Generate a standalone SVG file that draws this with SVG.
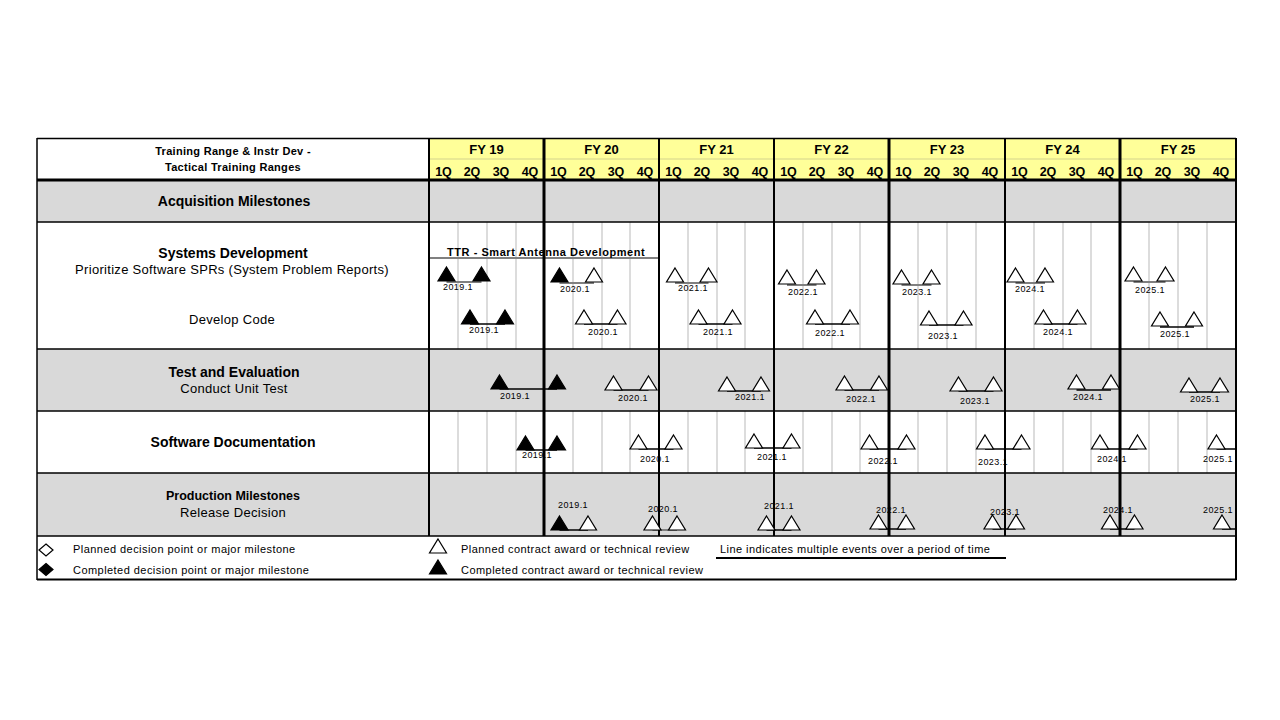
<svg xmlns="http://www.w3.org/2000/svg" xmlns:xlink="http://www.w3.org/1999/xlink" width="1280" height="720" viewBox="0 0 1280 720">
<style>
text{font-family:"Liberation Sans",Arial,sans-serif;fill:#000}
.hdr{font-size:11px;font-weight:bold;text-anchor:middle;letter-spacing:0.3px}
.fy{font-size:13px;font-weight:bold;text-anchor:middle}
.q{font-size:12.5px;font-weight:bold;text-anchor:middle}
.rt{font-size:14px;font-weight:bold;text-anchor:middle}
.rs{font-size:13px;text-anchor:middle;letter-spacing:0.3px}
.pm{font-size:12.5px;font-weight:bold;text-anchor:middle}
.lb{font-size:9px;text-anchor:middle;letter-spacing:0.4px}
.lg{font-size:11px;letter-spacing:0.45px}
.plan{fill:#fff;stroke:#000;stroke-width:1.2}
.done{fill:#000;stroke:#000;stroke-width:1.2}
.conn{stroke:#000;stroke-width:1.5;fill:none}
.conng{stroke:#808080;stroke-width:2;fill:none}
.grid{stroke:#d0d0d0;stroke-width:1.5}
.hl{stroke:#000;stroke-width:1.5}
.yl2{stroke:#000;stroke-width:2}
.yl3{stroke:#000;stroke-width:3}
</style>
<defs>
<path id="tri" d="M0,-14 L8.5,0 L-8.5,0 Z"/>
<path id="dia" d="M0,-6 L7,0 L0,6 L-7,0 Z"/>
</defs>
<rect width="1280" height="720" fill="#fff"/>

<g id="backgrounds">
<rect x="37" y="138" width="392" height="42" fill="#fff"/>
<rect x="429" y="138" width="807" height="42" fill="#FFFF99"/>
<rect x="37" y="180" width="1199" height="42" fill="#D9D9D9"/>
<rect x="37" y="349" width="1199" height="62" fill="#D9D9D9"/>
<rect x="37" y="473" width="1199" height="63" fill="#D9D9D9"/>
</g>

<g id="quarter-grid">
<line class="grid" x1="458" y1="222" x2="458" y2="349"/><line class="grid" x1="487" y1="222" x2="487" y2="349"/><line class="grid" x1="516" y1="222" x2="516" y2="349"/>
<line class="grid" x1="573" y1="222" x2="573" y2="349"/><line class="grid" x1="602" y1="222" x2="602" y2="349"/><line class="grid" x1="630" y1="222" x2="630" y2="349"/>
<line class="grid" x1="688" y1="222" x2="688" y2="349"/><line class="grid" x1="717" y1="222" x2="717" y2="349"/><line class="grid" x1="745" y1="222" x2="745" y2="349"/>
<line class="grid" x1="803" y1="222" x2="803" y2="349"/><line class="grid" x1="832" y1="222" x2="832" y2="349"/><line class="grid" x1="860" y1="222" x2="860" y2="349"/>
<line class="grid" x1="918" y1="222" x2="918" y2="349"/><line class="grid" x1="947" y1="222" x2="947" y2="349"/><line class="grid" x1="976" y1="222" x2="976" y2="349"/>
<line class="grid" x1="1034" y1="222" x2="1034" y2="349"/><line class="grid" x1="1063" y1="222" x2="1063" y2="349"/><line class="grid" x1="1091" y1="222" x2="1091" y2="349"/>
<line class="grid" x1="1149" y1="222" x2="1149" y2="349"/><line class="grid" x1="1178" y1="222" x2="1178" y2="349"/><line class="grid" x1="1207" y1="222" x2="1207" y2="349"/>
<line class="grid" x1="458" y1="411" x2="458" y2="473"/><line class="grid" x1="487" y1="411" x2="487" y2="473"/><line class="grid" x1="516" y1="411" x2="516" y2="473"/>
<line class="grid" x1="573" y1="411" x2="573" y2="473"/><line class="grid" x1="602" y1="411" x2="602" y2="473"/><line class="grid" x1="630" y1="411" x2="630" y2="473"/>
<line class="grid" x1="688" y1="411" x2="688" y2="473"/><line class="grid" x1="717" y1="411" x2="717" y2="473"/><line class="grid" x1="745" y1="411" x2="745" y2="473"/>
<line class="grid" x1="803" y1="411" x2="803" y2="473"/><line class="grid" x1="832" y1="411" x2="832" y2="473"/><line class="grid" x1="860" y1="411" x2="860" y2="473"/>
<line class="grid" x1="918" y1="411" x2="918" y2="473"/><line class="grid" x1="947" y1="411" x2="947" y2="473"/><line class="grid" x1="976" y1="411" x2="976" y2="473"/>
<line class="grid" x1="1034" y1="411" x2="1034" y2="473"/><line class="grid" x1="1063" y1="411" x2="1063" y2="473"/><line class="grid" x1="1091" y1="411" x2="1091" y2="473"/>
<line class="grid" x1="1149" y1="411" x2="1149" y2="473"/><line class="grid" x1="1178" y1="411" x2="1178" y2="473"/><line class="grid" x1="1207" y1="411" x2="1207" y2="473"/>
</g>

<g id="header">
<text class="hdr" x="233" y="155">Training Range &amp; Instr Dev -</text>
<text class="hdr" x="233" y="171">Tactical Training Ranges</text>
<line x1="429" y1="159" x2="1236" y2="159" stroke="#c8c88a" stroke-width="0.8"/>
<text class="fy" x="486.5" y="154">FY 19</text>
<text class="fy" x="601.5" y="154">FY 20</text>
<text class="fy" x="716.5" y="154">FY 21</text>
<text class="fy" x="831.5" y="154">FY 22</text>
<text class="fy" x="947" y="154">FY 23</text>
<text class="fy" x="1062.5" y="154">FY 24</text>
<text class="fy" x="1178" y="154">FY 25</text>
<g id="quarters">
<text class="q" x="443.5" y="175.5">1Q</text><text class="q" x="472" y="175.5">2Q</text><text class="q" x="501" y="175.5">3Q</text><text class="q" x="530" y="175.5">4Q</text>
<text class="q" x="558.5" y="175.5">1Q</text><text class="q" x="587" y="175.5">2Q</text><text class="q" x="616" y="175.5">3Q</text><text class="q" x="645" y="175.5">4Q</text>
<text class="q" x="673.5" y="175.5">1Q</text><text class="q" x="702" y="175.5">2Q</text><text class="q" x="731" y="175.5">3Q</text><text class="q" x="760" y="175.5">4Q</text>
<text class="q" x="788.5" y="175.5">1Q</text><text class="q" x="817" y="175.5">2Q</text><text class="q" x="846" y="175.5">3Q</text><text class="q" x="875" y="175.5">4Q</text>
<text class="q" x="903.5" y="175.5">1Q</text><text class="q" x="932" y="175.5">2Q</text><text class="q" x="961" y="175.5">3Q</text><text class="q" x="990" y="175.5">4Q</text>
<text class="q" x="1019.5" y="175.5">1Q</text><text class="q" x="1048" y="175.5">2Q</text><text class="q" x="1077" y="175.5">3Q</text><text class="q" x="1106" y="175.5">4Q</text>
<text class="q" x="1134.5" y="175.5">1Q</text><text class="q" x="1163" y="175.5">2Q</text><text class="q" x="1192" y="175.5">3Q</text><text class="q" x="1221" y="175.5">4Q</text>
</g>
</g>

<g id="row-acquisition">
<text class="rt" x="234" y="206">Acquisition Milestones</text>
</g>
<g id="row-systems-development">
<text class="rt" x="233" y="258">Systems Development</text>
<text class="rs" x="232" y="274">Prioritize Software SPRs (System Problem Reports)</text>
<text class="rs" x="232" y="324">Develop Code</text>
</g>
<g id="row-test-evaluation">
<text class="rt" x="234" y="377">Test and Evaluation</text>
<text class="rs" x="234" y="393">Conduct Unit Test</text>
</g>
<g id="row-software-documentation">
<text class="rt" x="233" y="447">Software Documentation</text>
</g>
<g id="row-production">
<text class="pm" x="233" y="500">Production Milestones</text>
<text class="rs" x="233" y="517">Release Decision</text>
</g>

<g id="connectors">
<line class="conng" x1="429" y1="258" x2="659" y2="258"/>
<line class="conng" x1="446.5" y1="282" x2="481.5" y2="282"/>
<line class="conng" x1="559.5" y1="283" x2="594" y2="283"/>
<line class="conng" x1="675" y1="283" x2="708.5" y2="283"/>
<line class="conng" x1="787" y1="285" x2="816.5" y2="285"/>
<line class="conng" x1="901.5" y1="285" x2="931.5" y2="285"/>
<line class="conng" x1="1015.5" y1="283" x2="1045" y2="283"/>
<line class="conng" x1="1133.5" y1="282" x2="1165.5" y2="282"/>
<line class="conn" x1="470" y1="324" x2="505" y2="324"/>
<line class="conn" x1="584" y1="324" x2="617.5" y2="324"/>
<line class="conn" x1="698.5" y1="324" x2="732.5" y2="324"/>
<line class="conn" x1="815" y1="324" x2="850" y2="324"/>
<line class="conn" x1="929" y1="325" x2="963.5" y2="325"/>
<line class="conn" x1="1043.5" y1="324" x2="1077.5" y2="324"/>
<line class="conn" x1="1160" y1="327" x2="1194" y2="327"/>
<line class="conn" x1="499.5" y1="389" x2="557" y2="389"/>
<line class="conn" x1="613.5" y1="390" x2="648.5" y2="390"/>
<line class="conn" x1="727" y1="391" x2="761" y2="391"/>
<line class="conn" x1="844.5" y1="390" x2="879" y2="390"/>
<line class="conn" x1="958.5" y1="391" x2="993.5" y2="391"/>
<line class="conn" x1="1076.5" y1="390" x2="1111" y2="390"/>
<line class="conn" x1="1189" y1="392" x2="1220" y2="392"/>
<line class="conn" x1="525.5" y1="450" x2="557" y2="450"/>
<line class="conn" x1="638.5" y1="449" x2="673.5" y2="449"/>
<line class="conn" x1="754" y1="448" x2="791.5" y2="448"/>
<line class="conn" x1="869.5" y1="449" x2="906.5" y2="449"/>
<line class="conn" x1="985" y1="449" x2="1021.5" y2="449"/>
<line class="conn" x1="1100" y1="449" x2="1137.5" y2="449"/>
<line class="conn" x1="1216.5" y1="449" x2="1236" y2="449"/>
<line class="conn" x1="559.5" y1="530" x2="588" y2="530"/>
<line class="conng" x1="652.5" y1="530" x2="677" y2="530"/>
<line class="conn" x1="766.5" y1="530" x2="791.5" y2="530"/>
<line class="conn" x1="878.5" y1="529" x2="906" y2="529"/>
<line class="conn" x1="992.5" y1="529" x2="1016" y2="529"/>
<line class="conn" x1="1110" y1="529" x2="1134.5" y2="529"/>
<line class="conn" x1="1222" y1="529" x2="1236" y2="529"/>
</g>

<g id="milestone-labels">
<text class="lb" x="458" y="290">2019.1</text><text class="lb" x="575" y="292">2020.1</text><text class="lb" x="693" y="291">2021.1</text><text class="lb" x="803" y="295">2022.1</text><text class="lb" x="917" y="295">2023.1</text><text class="lb" x="1030" y="292">2024.1</text><text class="lb" x="1150" y="293">2025.1</text>
<text class="lb" x="484" y="333">2019.1</text><text class="lb" x="603" y="335">2020.1</text><text class="lb" x="718" y="335">2021.1</text><text class="lb" x="830" y="336">2022.1</text><text class="lb" x="943" y="339">2023.1</text><text class="lb" x="1058" y="335">2024.1</text><text class="lb" x="1175" y="337">2025.1</text>
<text class="lb" x="515" y="399">2019.1</text><text class="lb" x="633" y="401">2020.1</text><text class="lb" x="750" y="400">2021.1</text><text class="lb" x="861" y="402">2022.1</text><text class="lb" x="975" y="404">2023.1</text><text class="lb" x="1088" y="400">2024.1</text><text class="lb" x="1205" y="402">2025.1</text>
<text class="lb" x="537" y="458">2019.1</text><text class="lb" x="655" y="462">2020.1</text><text class="lb" x="772" y="460">2021.1</text><text class="lb" x="883" y="464">2022.1</text><text class="lb" x="993" y="465">2023.1</text><text class="lb" x="1112" y="462">2024.1</text><text class="lb" x="1218" y="462">2025.1</text>
<text class="lb" x="573" y="508">2019.1</text><text class="lb" x="663" y="512">2020.1</text><text class="lb" x="779" y="509">2021.1</text><text class="lb" x="891" y="513">2022.1</text><text class="lb" x="1005" y="515">2023.1</text><text class="lb" x="1118" y="513">2024.1</text><text class="lb" x="1218" y="513">2025.1</text>
</g>

<g id="table-lines">
<line class="hl" x1="37" y1="138.5" x2="1236" y2="138.5"/>
<line x1="37" y1="180" x2="1236" y2="180" stroke="#000" stroke-width="3"/>
<line class="hl" x1="37" y1="222" x2="1236" y2="222"/>
<line class="hl" x1="37" y1="349" x2="1236" y2="349"/>
<line class="hl" x1="37" y1="411" x2="1236" y2="411"/>
<line class="hl" x1="37" y1="473" x2="1236" y2="473"/>
<line class="hl" x1="37" y1="536" x2="1236" y2="536"/>
<line x1="37" y1="579.5" x2="1236" y2="579.5" stroke="#000" stroke-width="2"/>
<line class="hl" x1="37" y1="138" x2="37" y2="580"/>
<line class="yl2" x1="1236" y1="138" x2="1236" y2="580"/>
<line class="yl2" x1="429" y1="138" x2="429" y2="536"/>
<line class="yl3" x1="544" y1="138" x2="544" y2="536"/>
<line class="yl2" x1="659" y1="138" x2="659" y2="536"/>
<line class="yl2" x1="774" y1="138" x2="774" y2="536"/>
<line class="yl3" x1="889" y1="138" x2="889" y2="536"/>
<line class="yl2" x1="1005" y1="138" x2="1005" y2="536"/>
<line class="yl3" x1="1120" y1="138" x2="1120" y2="536"/>
</g>

<g id="ttr-label">
<text x="447" y="256" style="font-size:11px;font-weight:bold;letter-spacing:0.55px">TTR - Smart Antenna Development</text>
</g>

<g id="milestones">
<use href="#tri" xlink:href="#tri" class="done" x="446.5" y="281"/><use href="#tri" xlink:href="#tri" class="done" x="481.5" y="281"/>
<use href="#tri" xlink:href="#tri" class="done" x="559.5" y="282"/><use href="#tri" xlink:href="#tri" class="plan" x="594" y="282"/>
<use href="#tri" xlink:href="#tri" class="plan" x="675" y="282"/><use href="#tri" xlink:href="#tri" class="plan" x="708.5" y="282"/>
<use href="#tri" xlink:href="#tri" class="plan" x="787" y="284"/><use href="#tri" xlink:href="#tri" class="plan" x="816.5" y="284"/>
<use href="#tri" xlink:href="#tri" class="plan" x="901.5" y="284"/><use href="#tri" xlink:href="#tri" class="plan" x="931.5" y="284"/>
<use href="#tri" xlink:href="#tri" class="plan" x="1015.5" y="282"/><use href="#tri" xlink:href="#tri" class="plan" x="1045" y="282"/>
<use href="#tri" xlink:href="#tri" class="plan" x="1133.5" y="281"/><use href="#tri" xlink:href="#tri" class="plan" x="1165.5" y="281"/>

<use href="#tri" xlink:href="#tri" class="done" x="470" y="324"/><use href="#tri" xlink:href="#tri" class="done" x="505" y="324"/>
<use href="#tri" xlink:href="#tri" class="plan" x="584" y="324"/><use href="#tri" xlink:href="#tri" class="plan" x="617.5" y="324"/>
<use href="#tri" xlink:href="#tri" class="plan" x="698.5" y="324"/><use href="#tri" xlink:href="#tri" class="plan" x="732.5" y="324"/>
<use href="#tri" xlink:href="#tri" class="plan" x="815" y="324"/><use href="#tri" xlink:href="#tri" class="plan" x="850" y="324"/>
<use href="#tri" xlink:href="#tri" class="plan" x="929" y="325"/><use href="#tri" xlink:href="#tri" class="plan" x="963.5" y="325"/>
<use href="#tri" xlink:href="#tri" class="plan" x="1043.5" y="324"/><use href="#tri" xlink:href="#tri" class="plan" x="1077.5" y="324"/>
<use href="#tri" xlink:href="#tri" class="plan" x="1160" y="326"/><use href="#tri" xlink:href="#tri" class="plan" x="1194" y="326"/>

<use href="#tri" xlink:href="#tri" class="done" x="499.5" y="389"/><use href="#tri" xlink:href="#tri" class="done" x="557" y="389"/>
<use href="#tri" xlink:href="#tri" class="plan" x="613.5" y="390"/><use href="#tri" xlink:href="#tri" class="plan" x="648.5" y="390"/>
<use href="#tri" xlink:href="#tri" class="plan" x="727" y="391"/><use href="#tri" xlink:href="#tri" class="plan" x="761" y="391"/>
<use href="#tri" xlink:href="#tri" class="plan" x="844.5" y="390"/><use href="#tri" xlink:href="#tri" class="plan" x="879" y="390"/>
<use href="#tri" xlink:href="#tri" class="plan" x="958.5" y="391"/><use href="#tri" xlink:href="#tri" class="plan" x="993.5" y="391"/>
<use href="#tri" xlink:href="#tri" class="plan" x="1076.5" y="389"/><use href="#tri" xlink:href="#tri" class="plan" x="1111" y="389"/>
<use href="#tri" xlink:href="#tri" class="plan" x="1189" y="392"/><use href="#tri" xlink:href="#tri" class="plan" x="1220" y="392"/>

<use href="#tri" xlink:href="#tri" class="done" x="525.5" y="450"/><use href="#tri" xlink:href="#tri" class="done" x="557" y="450"/>
<use href="#tri" xlink:href="#tri" class="plan" x="638.5" y="449"/><use href="#tri" xlink:href="#tri" class="plan" x="673.5" y="449"/>
<use href="#tri" xlink:href="#tri" class="plan" x="754" y="448"/><use href="#tri" xlink:href="#tri" class="plan" x="791.5" y="448"/>
<use href="#tri" xlink:href="#tri" class="plan" x="869.5" y="449"/><use href="#tri" xlink:href="#tri" class="plan" x="906.5" y="449"/>
<use href="#tri" xlink:href="#tri" class="plan" x="985" y="449"/><use href="#tri" xlink:href="#tri" class="plan" x="1021.5" y="449"/>
<use href="#tri" xlink:href="#tri" class="plan" x="1100" y="449"/><use href="#tri" xlink:href="#tri" class="plan" x="1137.5" y="449"/>
<use href="#tri" xlink:href="#tri" class="plan" x="1216.5" y="449"/>

<use href="#tri" xlink:href="#tri" class="done" x="559.5" y="530"/><use href="#tri" xlink:href="#tri" class="plan" x="588" y="530"/>
<use href="#tri" xlink:href="#tri" class="plan" x="652.5" y="530"/><use href="#tri" xlink:href="#tri" class="plan" x="677" y="530"/>
<use href="#tri" xlink:href="#tri" class="plan" x="766.5" y="530"/><use href="#tri" xlink:href="#tri" class="plan" x="791.5" y="530"/>
<use href="#tri" xlink:href="#tri" class="plan" x="878.5" y="529"/><use href="#tri" xlink:href="#tri" class="plan" x="906" y="529"/>
<use href="#tri" xlink:href="#tri" class="plan" x="992.5" y="529"/><use href="#tri" xlink:href="#tri" class="plan" x="1016" y="529"/>
<use href="#tri" xlink:href="#tri" class="plan" x="1110" y="529"/><use href="#tri" xlink:href="#tri" class="plan" x="1134.5" y="529"/>
<use href="#tri" xlink:href="#tri" class="plan" x="1222" y="529"/>
</g>

<g id="legend">
<use href="#dia" xlink:href="#dia" class="plan" x="46" y="550"/>
<use href="#dia" xlink:href="#dia" class="done" x="46" y="569.5"/>
<text class="lg" x="73" y="553">Planned decision point or major milestone</text>
<text class="lg" x="73" y="574">Completed decision point or major milestone</text>
<use href="#tri" xlink:href="#tri" class="plan" x="438" y="553"/>
<use href="#tri" xlink:href="#tri" class="done" x="438" y="574"/>
<text class="lg" x="461" y="553">Planned contract award or technical review</text>
<text class="lg" x="461" y="574">Completed contract award or technical review</text>
<text class="lg" x="720" y="553">Line indicates multiple events over a period of time</text>
<line x1="716" y1="558" x2="1006" y2="558" stroke="#000" stroke-width="2"/>
</g>
</svg>
